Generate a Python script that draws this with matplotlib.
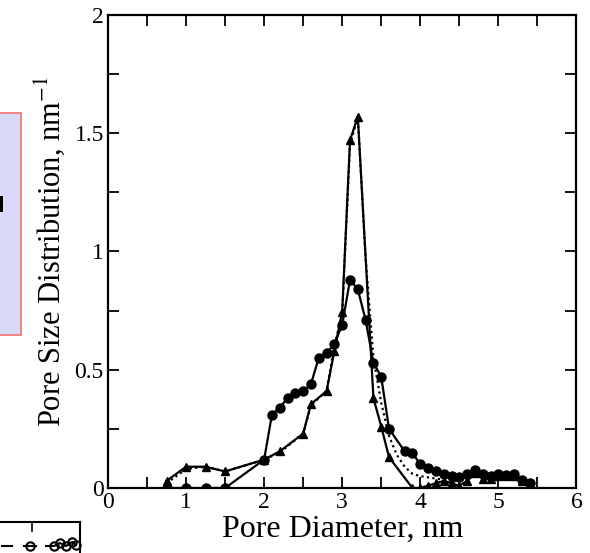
import matplotlib
matplotlib.use("Agg")
import matplotlib.pyplot as plt
from matplotlib.ticker import MultipleLocator
from matplotlib.patches import Rectangle
from matplotlib.lines import Line2D

# Series A: solid line, filled circles
xa = [0.75, 1.0, 1.25, 1.5, 2.0, 2.1, 2.2, 2.3, 2.4, 2.5, 2.6, 2.7, 2.8, 2.9, 3.0,
      3.1, 3.2, 3.3, 3.4, 3.5, 3.6, 3.8, 3.9, 4.0, 4.1, 4.2, 4.3, 4.4, 4.5, 4.6,
      4.7, 4.8, 4.9, 5.0, 5.1, 5.2, 5.3, 5.4]
ya = [0.0, 0.0, 0.0, 0.0, 0.12, 0.31, 0.34, 0.38, 0.40, 0.41, 0.44, 0.55, 0.57, 0.61, 0.69,
      0.88, 0.84, 0.71, 0.53, 0.47, 0.25, 0.155, 0.148, 0.10, 0.085, 0.07, 0.06, 0.05, 0.045, 0.06,
      0.075, 0.06, 0.05, 0.06, 0.055, 0.06, 0.035, 0.02]

# Series B: solid line, filled triangles
xb = [0.75, 1.0, 1.25, 1.5, 2.0, 2.2, 2.5, 2.6, 2.8, 2.9, 3.0, 3.1, 3.2, 3.4, 3.5,
      3.6, 3.9, 4.0, 4.1, 4.2, 4.3, 4.4, 4.5, 4.6, 4.7, 4.8, 4.9, 5.0, 5.1, 5.2, 5.3, 5.4]
yb = [0.03, 0.09, 0.09, 0.07, 0.12, 0.155, 0.23, 0.355, 0.41, 0.58, 0.745, 1.47, 1.57, 0.38, 0.26,
      0.13, 0.0, 0.0, 0.01, 0.02, 0.03, 0.02, 0.01, 0.03, 0.065, 0.04, 0.04, 0.05, 0.05, 0.05, 0.03, 0.01]

# Series C: dotted line
xc = [0.75, 1.0, 1.25, 1.5, 2.0, 2.2, 2.5, 2.6, 2.8, 2.9, 3.0, 3.1, 3.2, 3.3, 3.4, 3.5,
      3.6, 3.7, 3.8, 3.9, 4.0, 4.1, 4.2, 4.3, 4.4, 4.5, 4.6, 4.7, 4.8, 4.9, 5.0, 5.1,
      5.2, 5.3, 5.4]
yc = [0.02, 0.08, 0.09, 0.07, 0.12, 0.15, 0.23, 0.35, 0.41, 0.60, 0.74, 1.45, 1.57, 0.97, 0.55, 0.36,
      0.22, 0.14, 0.09, 0.06, 0.05, 0.045, 0.04, 0.035, 0.03, 0.03, 0.04, 0.05, 0.04, 0.035, 0.04, 0.04,
      0.035, 0.03, 0.02]

x_ticks = [0, 1, 2, 3, 4, 5, 6]
x_tick_labels = ['0', '1', '2', '3', '4', '5', '6']
y_ticks = [0, 0.5, 1, 1.5, 2]
y_tick_labels = ['0', '0.5', '1', '1.5', '2']

plt.rcParams['font.family'] = ['Liberation Serif', 'DejaVu Serif']
plt.rcParams['mathtext.fontset'] = 'stix'

fig = plt.figure(figsize=(5.9, 5.53), dpi=100)
ax = fig.add_axes([0.183, 0.1175, 0.794, 0.8555])

ax.plot(xc, yc, color='black', lw=1.6, ls=(0, (1, 1.5)))
ax.plot(xb, yb, color='black', lw=1.6, marker='^', ms=6)
ax.plot(xa, ya, color='black', lw=1.6, marker='o', ms=6.5)

ax.set_xlim(0, 6)
ax.set_ylim(0, 2)
ax.set_xticks(x_ticks)
ax.set_xticklabels(x_tick_labels)
ax.set_yticks(y_ticks)
ax.set_yticklabels(y_tick_labels)
ax.xaxis.set_minor_locator(MultipleLocator(0.5))
ax.yaxis.set_minor_locator(MultipleLocator(0.25))
ax.tick_params(which='both', direction='in', top=True, right=True, width=1.3, labelsize=17, pad=3)
ax.tick_params(which='both', length=8)
for s in ax.spines.values():
    s.set_linewidth(1.6)

ax.set_xlabel('Pore Diameter, nm', fontsize=23, labelpad=1)
ax.set_ylabel(r'Pore Size Distribution, nm$^{-1}$', fontsize=22, labelpad=5)

# partial neighbouring panel elements (cropped figure)
fig.patches.append(Rectangle((-0.02, 1 - 335 / 553), 0.056, (335 - 113) / 553,
                             transform=fig.transFigure, facecolor='#d9dafa',
                             edgecolor='#f07070', lw=1.2, figure=fig))
fig.patches.append(Rectangle((0, 1 - 212 / 553), 3 / 590, 16 / 553,
                             transform=fig.transFigure, facecolor='black',
                             edgecolor='none', figure=fig))
fig.lines.append(Line2D([0, 80 / 590], [1 - 522 / 553] * 2, transform=fig.transFigure,
                        color='black', lw=1.5))
fig.lines.append(Line2D([80 / 590] * 2, [1 - 522 / 553, 0], transform=fig.transFigure,
                        color='black', lw=1.5))
fig.lines.append(Line2D([32 / 590] * 2, [1 - 522 / 553, 1 - 531 / 553], transform=fig.transFigure,
                        color='black', lw=1.2))
fig.lines.append(Line2D([2 / 590, 12 / 590], [1 - 546 / 553] * 2, transform=fig.transFigure,
                        color='black', lw=1.5))
fig.lines.append(Line2D([24 / 590, 30 / 590, 36 / 590], [1 - 546 / 553] * 3, transform=fig.transFigure,
                        color='black', lw=1.5, marker='o', mfc='none', mew=1.5, ms=6, markevery=[1]))
fig.lines.append(Line2D([46 / 590, 54 / 590, 60 / 590, 66 / 590, 72 / 590, 76 / 590],
                        [1 - 546 / 553, 1 - 546 / 553, 1 - 543 / 553, 1 - 546 / 553, 1 - 542 / 553, 1 - 545 / 553],
                        transform=fig.transFigure, color='black', lw=1.5,
                        marker='o', mfc='none', mew=1.5, ms=6, markevery=[1, 2, 3, 4, 5]))

fig.savefig('out.png', dpi=100)
